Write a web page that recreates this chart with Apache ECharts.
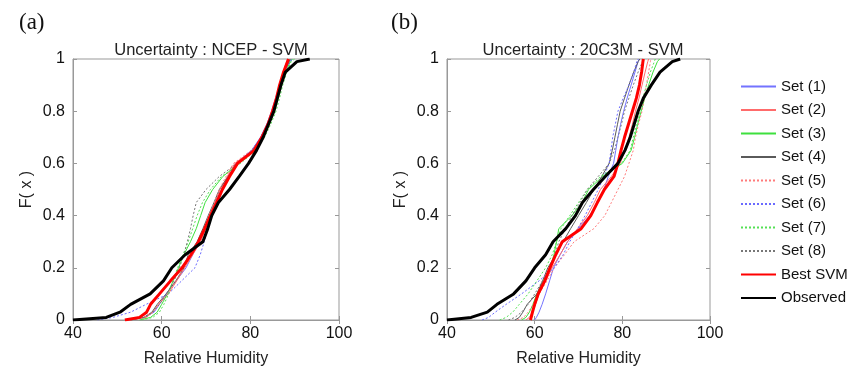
<!DOCTYPE html>
<html>
<head>
<meta charset="utf-8">
<script src="https://cdn.jsdelivr.net/npm/echarts@6/dist/echarts.min.js"></script>
<style>
  html, body { margin: 0; padding: 0; background: #fff; }
  #chart { width: 860px; height: 372px; }
</style>
</head>
<body>
<div id="chart"></div>
<script>
// cumulative probability levels at which each curve's humidity was read
const levels = [0, 0.01, 0.03, 0.06, 0.1, 0.15, 0.2, 0.25, 0.3, 0.35, 0.4, 0.45, 0.5,
  0.55, 0.6, 0.65, 0.7, 0.75, 0.8, 0.85, 0.9, 0.95, 0.99, 1];

const names = ["Set (1)", "Set (2)", "Set (3)", "Set (4)", "Set (5)", "Set (6)",
  "Set (7)", "Set (8)", "Best SVM", "Observed"];

const xTicks = [40, 60, 80, 100];
const yTicks = [0, 0.2, 0.4, 0.6, 0.8, 1];

// (a) NCEP - SVM
const set1A = [52, 56, 58.3, 59.5, 61, 63.3, 65.5, 67, 68.5, 69.7, 70.8, 72.1, 73.5, 75, 76.7, 80.3, 82.3, 83.7, 84.8, 85.7, 86.6, 87.6, 88.8, 89.3];
const set2A = [53, 56.5, 58, 59.3, 61.5, 63.4, 65.2, 67, 68.8, 69.9, 70.8, 72, 73.2, 74.8, 76.5, 80.5, 82.5, 83.9, 85, 85.8, 86.6, 87.4, 88.2, 88.4];
const set3A = [55, 57.5, 59, 60, 61.3, 62.6, 63.8, 65, 66.5, 67.8, 68.8, 69.8, 71.5, 73.8, 77.5, 81, 83, 84.3, 85.5, 86.3, 87.1, 88, 89, 89.5];
const set4A = [53, 56, 57.8, 59, 61, 63.2, 65, 66, 68, 69.3, 70.5, 71.8, 73, 75, 77, 80.5, 82.5, 83.8, 85, 85.9, 86.7, 87.6, 88.7, 89];
const set5A = [52.5, 56, 58, 59.2, 61.2, 63.2, 65, 66.7, 68.5, 69.6, 70.6, 71.8, 73, 74.5, 76.2, 80.2, 82.4, 83.8, 84.9, 85.8, 86.6, 87.5, 88.5, 88.8];
const set6A = [45.5, 49, 53, 56.5, 61.5, 64.5, 67.5, 68.7, 69.6, 70.4, 71.2, 72.3, 73.5, 75, 77, 80.3, 82.3, 83.8, 84.9, 85.8, 86.7, 87.6, 89, 89.5];
const set7A = [55.5, 58, 59.5, 60.5, 61.6, 62.5, 63.6, 64.8, 66, 67, 68, 69.2, 71, 73.5, 77.8, 81.2, 83.2, 84.6, 85.8, 86.6, 87.3, 88.2, 89.2, 90];
const set8A = [53, 56.3, 58, 59.5, 61.2, 62.8, 64, 65, 65.8, 66.5, 67.1, 67.8, 70, 73, 77, 80.6, 82.6, 84, 85.1, 86, 86.8, 87.7, 88.8, 89.2];
const bestA = [51.7, 55, 56.6, 57.5, 59.5, 62, 64.6, 66.6, 68.3, 69.7, 71, 72.4, 73.7, 75.3, 77.1, 80.9, 82.6, 84, 85, 85.9, 86.6, 87.5, 88.4, 88.6];
const obsA = [40, 47.5, 50.6, 53, 57.4, 60.4, 62.3, 65.3, 69.3, 70.4, 71.3, 72.8, 75.3, 77.5, 79.6, 81.4, 82.9, 84.1, 85.3, 86.1, 86.9, 87.9, 90.5, 93.4];

// (b) 20C3M - SVM
const set1B = [60, 60.4, 61, 61.7, 62.5, 63.4, 64.3, 65.8, 67.5, 70, 72.5, 74.5, 75.8, 76.8, 78, 78.5, 79, 79.6, 80.3, 81.1, 82, 82.9, 83.6, 83.8];
const set2B = [58, 58.8, 59.5, 60.2, 61, 62.5, 64, 65.8, 67.5, 69.8, 72, 73.6, 75, 77.5, 79.5, 80.6, 81.5, 82.3, 83, 83.8, 84.5, 85.2, 85.8, 86];
const set3B = [57, 58, 58.8, 59.6, 60.5, 62, 63.5, 64.4, 65, 65.5, 68.5, 70.8, 72.3, 75.5, 80, 82, 82.8, 83.5, 84.3, 85.1, 86, 87, 88, 88.5];
const set4B = [55.5, 56.5, 57.3, 58.3, 60.5, 61.8, 63, 64.8, 66.5, 68.2, 70, 71.8, 73.5, 75.3, 77, 77.7, 78.3, 78.9, 79.5, 80.5, 81.5, 82.6, 83.6, 84];
const set5B = [56, 57.5, 58.5, 59.7, 61, 62.8, 64.5, 66.8, 69, 73.5, 76, 77.5, 79, 80.5, 81.5, 82.5, 83, 83.7, 84.5, 85, 85.5, 86, 86.4, 86.5];
const set6B = [48, 49.5, 51, 53.5, 57, 61, 64.5, 66.5, 68, 69.8, 71.5, 73, 74.5, 75.8, 77, 77.4, 77.8, 78.4, 79, 80.2, 81.5, 82.6, 83.3, 83.5];
const set7B = [52, 53.5, 55, 56.5, 58.5, 60.5, 62.5, 64, 65, 66, 68, 70, 72, 75, 79.8, 81.8, 82.5, 83.2, 84, 84.7, 85.5, 86.4, 87.3, 87.5];
const set8B = [54, 55.5, 57, 58.5, 60, 61.8, 63.5, 64.6, 65.5, 67, 68.5, 70.3, 72, 74.5, 77, 78.2, 79, 79.8, 80.5, 81.5, 82.5, 83.6, 84.6, 85];
const bestB = [59, 59.2, 59.5, 60, 60.8, 62.3, 63.5, 64.8, 66.3, 70.6, 72.8, 74.3, 75.9, 78.1, 79, 79.7, 80.5, 81.4, 82.3, 83.2, 83.9, 84.4, 84.7, 84.8];
const obsB = [40, 45.5, 49.2, 51.4, 55.2, 58, 60, 62.5, 64.2, 67.1, 69.3, 70.9, 73.4, 76.1, 79, 80.6, 81.8, 82.7, 83.6, 84.8, 86.6, 88.6, 91.4, 93.2];

const panelA = [set1A, set2A, set3A, set4A, set5A, set6A, set7A, set8A, bestA, obsA];
const panelB = [set1B, set2B, set3B, set4B, set5B, set6B, set7B, set8B, bestB, obsB];

const lineStyles = [
  { color: "#7373ff", width: 1, type: "solid" },
  { color: "#ff6b6b", width: 1, type: "solid" },
  { color: "#3ee03e", width: 1, type: "solid" },
  { color: "#5a5a5a", width: 1, type: "solid" },
  { color: "#ff7b7b", width: 1, type: [2, 2] },
  { color: "#6a6aff", width: 1, type: [2, 2] },
  { color: "#55e055", width: 1, type: [2, 2] },
  { color: "#777777", width: 1, type: [2, 2] },
  { color: "#ff0000", width: 3, type: "solid" },
  { color: "#000000", width: 3, type: "solid" },
];

const font = "Liberation Sans, Arial, sans-serif";
const grids = [
  { left: 73, top: 59, width: 266, height: 264 },
  { left: 447, top: 59, width: 263, height: 264 },
];

const chart = echarts.init(document.getElementById("chart"), null, { renderer: "canvas" });

const xAxes = [];
const yAxes = [];
grids.forEach((g, i) => {
  g.show = true;
  g.borderColor = "#999";
  g.borderWidth = 1;
  g.containLabel = false;
  xAxes.push({
    gridIndex: i, type: "value", min: 40, max: 100, interval: 20,
    name: "Relative Humidity", nameLocation: "middle", nameGap: 31,
    nameTextStyle: { fontFamily: font, fontSize: 16, color: "#222" },
    axisLine: { show: true, lineStyle: { color: "#999" } },
    axisTick: { show: true, inside: true, length: 4, lineStyle: { color: "#999" } },
    axisLabel: { fontFamily: font, fontSize: 16, color: "#111", margin: 6,
      formatter: (v) => (xTicks.includes(v) ? String(v) : "") },
    splitLine: { show: false },
  });
  xAxes.push({
    gridIndex: i, type: "value", min: 40, max: 100, interval: 20, position: "top",
    axisLine: { show: false },
    axisTick: { show: true, inside: true, length: 4, lineStyle: { color: "#999" } },
    axisLabel: { show: false }, splitLine: { show: false },
  });
  yAxes.push({
    gridIndex: i, type: "value", min: 0, max: 1, interval: 0.2,
    name: "F( x )", nameLocation: "middle", nameGap: 38, nameRotate: 90,
    nameTextStyle: { fontFamily: font, fontSize: 16, color: "#222" },
    axisLine: { show: true, lineStyle: { color: "#999" } },
    axisTick: { show: true, inside: true, length: 4, lineStyle: { color: "#999" } },
    axisLabel: { fontFamily: font, fontSize: 16, color: "#111", margin: 8,
      formatter: (v) => (yTicks.some((t) => Math.abs(t - v) < 1e-9) ? String(+v.toFixed(1)) : "") },
    splitLine: { show: false },
  });
  yAxes.push({
    gridIndex: i, type: "value", min: 0, max: 1, interval: 0.2, position: "right",
    axisLine: { show: false },
    axisTick: { show: true, inside: true, length: 4, lineStyle: { color: "#999" } },
    axisLabel: { show: false }, splitLine: { show: false },
  });
});

const series = [];
[panelA, panelB].forEach((panel, p) => {
  panel.forEach((xs, k) => {
    series.push({
      name: names[k],
      type: "line",
      xAxisIndex: p * 2,
      yAxisIndex: p * 2,
      data: xs.map((x, j) => [x, levels[j]]),
      showSymbol: false,
      symbol: "none",
      lineStyle: lineStyles[k],
      itemStyle: { color: lineStyles[k].color },
      z: k >= 8 ? 3 + k : 2,
      silent: true,
      animation: false,
    });
  });
});

chart.setOption({
  animation: false,
  backgroundColor: "#fff",
  title: [
    { text: "(a)", left: 14, top: 6, textStyle: { fontFamily: "Liberation Serif, Times New Roman, serif", fontSize: 23, fontWeight: "normal", color: "#111" } },
    { text: "(b)", left: 386, top: 6, textStyle: { fontFamily: "Liberation Serif, Times New Roman, serif", fontSize: 23, fontWeight: "normal", color: "#111" } },
    { text: "Uncertainty : NCEP - SVM", left: 206, top: 37, textAlign: "center", textStyle: { fontFamily: font, fontSize: 16.5, fontWeight: "normal", color: "#222" } },
    { text: "Uncertainty : 20C3M - SVM", left: 578, top: 37, textAlign: "center", textStyle: { fontFamily: font, fontSize: 16.5, fontWeight: "normal", color: "#222" } },
  ],
  legend: {
    data: names,
    orient: "vertical",
    left: 735,
    top: 74,
    itemWidth: 35,
    itemHeight: 14,
    itemGap: 8.5,
    itemStyle: { opacity: 0 },
    textStyle: { fontFamily: font, fontSize: 15, color: "#111" },
    selectedMode: false,
  },
  grid: grids,
  xAxis: xAxes,
  yAxis: yAxes,
  series: series,
});
</script>
</body>
</html>
